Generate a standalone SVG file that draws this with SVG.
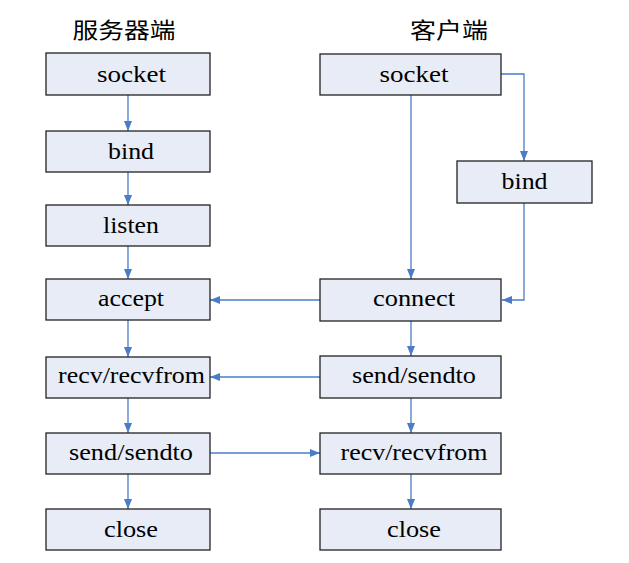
<svg xmlns="http://www.w3.org/2000/svg" width="629" height="563" viewBox="0 0 629 563">
<style>
.box{fill:#e7ecf7;stroke:#222;stroke-width:1.3}
.t{font-size:23px;fill:#000;text-anchor:middle}
.h{font-family:'Noto Sans CJK SC',sans-serif;font-size:22px;fill:#000;text-anchor:middle}
.c{fill:none;stroke:#4a7cc7;stroke-width:1.3}
</style>
<defs>
<marker id="a" markerWidth="10" markerHeight="8" refX="10" refY="4" orient="auto" markerUnits="userSpaceOnUse">
<path d="M0,0 L10,4 L0,8 Z" fill="#4a7cc7"/>
</marker>
</defs>
<rect width="629" height="563" fill="#fff"/>
<text class="h" x="124" y="38" textLength="103" lengthAdjust="spacingAndGlyphs">服务器端</text>
<text class="h" x="449" y="38" textLength="78" lengthAdjust="spacingAndGlyphs">客户端</text>
<g id="connectors">
<path class="c" d="M128,95 V131" marker-end="url(#a)"/>
<path class="c" d="M128,172 V205" marker-end="url(#a)"/>
<path class="c" d="M128,246 V279" marker-end="url(#a)"/>
<path class="c" d="M128,320 V357" marker-end="url(#a)"/>
<path class="c" d="M128,398 V433" marker-end="url(#a)"/>
<path class="c" d="M128,474 V509" marker-end="url(#a)"/>
<path class="c" d="M411,95 V279" marker-end="url(#a)"/>
<path class="c" d="M501,74 H524 V161" marker-end="url(#a)"/>
<path class="c" d="M524,203 V300 H502" marker-end="url(#a)"/>
<path class="c" d="M411,321 V356" marker-end="url(#a)"/>
<path class="c" d="M411,398 V433" marker-end="url(#a)"/>
<path class="c" d="M411,474 V509" marker-end="url(#a)"/>
<path class="c" d="M320,300 H210" marker-end="url(#a)"/>
<path class="c" d="M320,377 H210" marker-end="url(#a)"/>
<path class="c" d="M210,453 H320" marker-end="url(#a)"/>
</g>
<g font-family="Liberation Serif, serif">
<g id="s_socket"><rect class="box" x="46" y="53" width="164" height="42"/><text class="t" x="131.5" y="82" textLength="69" lengthAdjust="spacingAndGlyphs">socket</text></g>
<g id="s_bind"><rect class="box" x="46" y="131" width="164" height="41"/><text class="t" x="131" y="159" textLength="46" lengthAdjust="spacingAndGlyphs">bind</text></g>
<g id="s_listen"><rect class="box" x="46" y="205" width="164" height="41"/><text class="t" x="131" y="233" textLength="56" lengthAdjust="spacingAndGlyphs">listen</text></g>
<g id="s_accept"><rect class="box" x="46" y="279" width="164" height="41"/><text class="t" x="131" y="306" textLength="66" lengthAdjust="spacingAndGlyphs">accept</text></g>
<g id="s_recv"><rect class="box" x="46" y="357" width="164" height="41"/><text class="t" x="131.5" y="383" textLength="147" lengthAdjust="spacingAndGlyphs">recv/recvfrom</text></g>
<g id="s_send"><rect class="box" x="46" y="433" width="164" height="41"/><text class="t" x="131" y="460" textLength="124" lengthAdjust="spacingAndGlyphs">send/sendto</text></g>
<g id="s_close"><rect class="box" x="46" y="509" width="164" height="41"/><text class="t" x="131" y="537" textLength="54" lengthAdjust="spacingAndGlyphs">close</text></g>
<g id="c_socket"><rect class="box" x="320" y="54" width="181" height="41"/><text class="t" x="414" y="82" textLength="69" lengthAdjust="spacingAndGlyphs">socket</text></g>
<g id="c_bind"><rect class="box" x="457" y="161" width="135" height="42"/><text class="t" x="524.5" y="189" textLength="46" lengthAdjust="spacingAndGlyphs">bind</text></g>
<g id="c_connect"><rect class="box" x="320" y="279" width="181" height="42"/><text class="t" x="414" y="306" textLength="82" lengthAdjust="spacingAndGlyphs">connect</text></g>
<g id="c_send"><rect class="box" x="320" y="356" width="181" height="42"/><text class="t" x="414" y="383" textLength="124" lengthAdjust="spacingAndGlyphs">send/sendto</text></g>
<g id="c_recv"><rect class="box" x="320" y="433" width="181" height="41"/><text class="t" x="414" y="460" textLength="147" lengthAdjust="spacingAndGlyphs">recv/recvfrom</text></g>
<g id="c_close"><rect class="box" x="320" y="509" width="181" height="41"/><text class="t" x="414" y="537" textLength="54" lengthAdjust="spacingAndGlyphs">close</text></g>
</g>
</svg>
